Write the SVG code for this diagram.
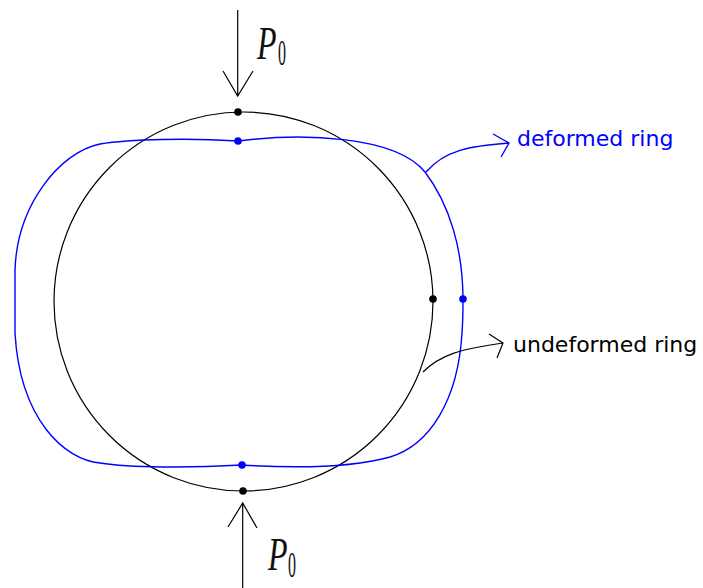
<svg xmlns="http://www.w3.org/2000/svg" width="703" height="588" viewBox="0 0 703 588">
<style>
.blk{fill:none;stroke:#000;stroke-width:1.2}
.blu{fill:none;stroke:#0000ff;stroke-width:1.4}
.lbl{font-family:"DejaVu Sans",Verdana,sans-serif;font-size:22px}
.pl{font-family:"Liberation Serif","Times New Roman",serif;fill:#111}
</style>
<rect width="703" height="588" fill="#fff"/>
<g id="undeformed-ring">
<circle class="blk" cx="243.5" cy="301.5" r="189.5"/>
<circle cx="238" cy="112" r="3.8" fill="#000"/>
<circle cx="243" cy="491" r="3.8" fill="#000"/>
<circle cx="433" cy="299" r="3.8" fill="#000"/>
</g>
<g id="deformed-ring">
<path class="blu" d="M238,141 C190,138 130,139 100,144 C60,152 17,205 15,270 L15,333 C20,420 65,460 100,463 C130,468 190,468 242,465 C290,468 350,468 390,457 C430,445 458,400 462,333 C463,320 463,310 463,300 C463,250 450,205 425,172 C395,135 300,133 238,141 Z"/>
<circle cx="238" cy="141" r="3.8" fill="#0000ff"/>
<circle cx="242" cy="465" r="3.8" fill="#0000ff"/>
<circle cx="463" cy="299" r="3.8" fill="#0000ff"/>
</g>
<g id="connectors">
<path class="blk" d="M237.7,10 L237.7,96 M223,71 L237.7,96 L253,71"/>
<path class="blk" d="M242.7,588 L242.7,503 M228,527 L242.7,503 L257,528"/>
<path class="blu" d="M426,172 C445,150 470,146 509,143 M493,134 L509,143 L501,157"/>
<path class="blk" d="M423,372 C440,355 460,349 503,343 M489,334 L503,343 L497,358"/>
</g>
<g id="label-top" class="pl">
<text transform="translate(257,59) scale(1,1.47)" font-size="32" font-style="italic">P</text>
<text transform="translate(278,65) scale(1,2.2)" font-size="16">0</text>
</g>
<g id="label-bottom" class="pl">
<text transform="translate(268,570) scale(1,1.47)" font-size="32" font-style="italic">P</text>
<text transform="translate(288,577) scale(1,2.2)" font-size="16">0</text>
</g>
<g id="label-deformed">
<text class="lbl" x="517" y="146" fill="#0000ff">deformed ring</text>
</g>
<g id="label-undeformed">
<text class="lbl" x="513" y="352" fill="#000">undeformed ring</text>
</g>
</svg>
